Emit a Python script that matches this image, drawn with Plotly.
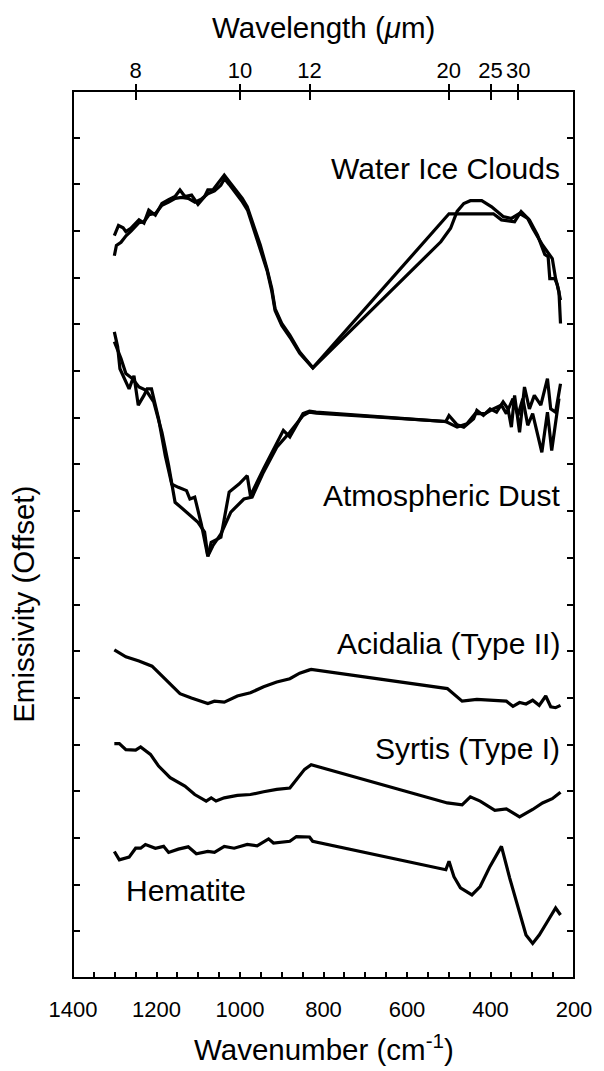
import plotly.graph_objects as go

# ---------------- data (wavenumber cm^-1, offset emissivity units) ----------------
ice1_wn = [1301, 1291, 1280, 1273.5, 1261.6, 1242, 1230, 1218.5, 1202.7, 1187, 1171, 1155.5,
           1143.8, 1132, 1116, 1100.6, 1084.8, 1077, 1065, 1053.4, 1037.7, 1026, 1010, 994.5,
           982.7, 967, 951.4, 935.6, 923.8, 916, 900, 880.6, 857, 825.5, 499.4, 393, 373.8,
           342.3, 326.6, 306.8, 287.3, 270, 262, 258, 246, 240, 232.3]
ice1_em = [15.90, 16.12, 16.07, 15.99, 16.06, 16.24, 16.17, 16.45, 16.34, 16.59, 16.67, 16.74,
           16.88, 16.74, 16.77, 16.57, 16.74, 16.88, 16.88, 17.02, 17.20, 17.06, 16.88, 16.70,
           16.52, 16.13, 15.70, 15.20, 14.77, 14.34, 14.02, 13.77, 13.41, 13.07, 16.37, 16.37, 16.24,
           16.20, 16.42, 16.24, 15.91, 15.50, 15.45, 14.98, 14.98, 14.85, 14.52]

ice2_wn = [1301, 1296, 1285, 1273, 1261, 1242, 1230, 1218, 1202, 1187, 1171, 1155, 1140, 1124,
           1108, 1093, 1077, 1061, 1046, 1037, 1026, 1010, 994, 982, 967, 951, 935, 924, 916, 900,
           880, 857, 825.5, 519, 495.6, 480, 464, 448.3, 421, 397.3, 369.8, 350, 330.4, 310.8,
           299, 275.4, 252, 244, 236, 232.3]
ice2_em = [15.47, 15.69, 15.76, 15.90, 16.00, 16.18, 16.20, 16.35, 16.38, 16.55, 16.62, 16.70,
           16.72, 16.70, 16.62, 16.68, 16.80, 16.86, 16.98, 17.12, 17.00, 16.82, 16.62, 16.45, 16.05,
           15.62, 15.15, 14.72, 14.30, 13.98, 13.72, 13.38, 13.07, 15.77, 16.06, 16.42, 16.59, 16.65,
           16.65, 16.52, 16.31, 16.27, 16.38, 16.27, 16.06, 15.70, 15.41, 14.98, 14.70, 14.02]

dust1_wn = [1301, 1293, 1287.6, 1265.6, 1254, 1243.7, 1230, 1222.4, 1212, 1195, 1179, 1163.5,
            1147.7, 1128, 1120, 1108.4, 1092.8, 1077, 1069, 1045.7, 1026, 1002.4, 982.7, 975,
            943.4, 912, 896.2, 880.6, 849, 833.5, 817.7, 507, 499.4, 480, 464, 440.5, 432.7, 417,
            401, 385.5, 369.8, 358, 350, 342.3, 330.4, 318.6, 306.8, 295, 279.5, 263.6, 255.8,
            244, 232.3]
dust1_em = [13.84, 13.52, 13.05, 12.62, 12.90, 12.27, 12.48, 12.62, 12.62, 11.98, 11.19, 10.58,
            10.51, 10.44, 10.26, 10.30, 9.73, 9.03, 9.33, 9.44, 10.41, 10.58, 10.76, 10.33,
            10.91, 11.48, 11.73, 11.59, 12.09, 12.14, 12.12, 11.92, 12.05, 11.85, 11.80, 11.98, 12.16,
            12.05, 12.19, 12.12, 12.34, 12.19, 11.80, 12.48, 11.69, 12.66, 12.19, 12.48, 12.27,
            12.84, 12.19, 12.12, 12.73]

dust2_wn = [1301, 1285, 1273.4, 1257.8, 1242, 1225, 1206.7, 1187, 1171, 1155.5, 1132, 1100.6,
            1084.8, 1077, 1065, 1045.7, 1022, 990.6, 971, 943.4, 912, 880.6, 849, 833.5, 817,
            507, 480, 456.4, 436.6, 413, 393.3, 373.8, 362, 346.2, 334.4, 322.6, 310.8, 299, 277,
            263.6, 253.4, 240, 236]
dust2_em = [13.63, 13.27, 12.95, 12.84, 12.66, 12.59, 12.34, 11.69, 10.98, 10.19, 10.01, 9.76,
            9.55, 9.04, 9.26, 9.51, 9.98, 10.26, 10.30, 10.84, 11.37, 11.69, 12.05, 12.12, 12.10,
            11.92, 11.80, 11.87, 12.09, 12.09, 12.19, 12.27, 12.09, 12.41, 12.05, 12.41, 11.84,
            12.09, 11.26, 12.12, 11.30, 12.12, 12.41]

acid_wn = [1301, 1273.4, 1242, 1210.7, 1179, 1143.8, 1116.4, 1077, 1061.2, 1037.7, 1006.3, 975,
           943.4, 912, 880.6, 857, 833.5, 829.5, 503.4, 468, 432.7, 393.3, 362, 346.2, 330.4, 315,
           299, 283.3, 267.7, 255.8, 244, 232.3]
acid_em = [7.03, 6.88, 6.79, 6.68, 6.40, 6.09, 6.00, 5.88, 5.93, 5.91, 6.04, 6.11,
           6.24, 6.34, 6.41, 6.53, 6.60, 6.61, 6.20, 5.93, 5.97, 5.95, 5.93, 5.82, 5.90, 5.87,
           5.95, 5.84, 6.04, 5.81, 5.79, 5.84]

syrt_wn = [1301, 1289, 1273.4, 1250, 1238, 1214.5, 1195, 1167.3, 1132, 1108.4, 1081, 1069,
           1057.5, 1037.7, 1006.3, 975, 943.4, 912, 880.6, 861, 845.3, 829.5, 503.4, 468, 448.3,
           424.8, 389.6, 362, 330.4, 299, 275.4, 252, 232.3]
syrt_em = [5.02, 5.02, 4.89, 4.88, 4.95, 4.79, 4.54, 4.29, 4.11, 3.93, 3.79, 3.86,
           3.79, 3.86, 3.91, 3.93, 3.99, 4.04, 4.07, 4.29, 4.47, 4.57, 3.75, 3.71, 3.88,
           3.79, 3.59, 3.62, 3.45, 3.61, 3.75, 3.84, 3.98]

hem_wn = [1301, 1289, 1265.6, 1250, 1238, 1226.5, 1202.7, 1183, 1171, 1147.7, 1124, 1104.6,
          1077, 1061.2, 1037.7, 1014, 982.7, 959, 931.6, 919.8, 880.6, 864.8, 833.5, 826, 507,
          499.4, 487.6, 472, 444.5, 424.8, 401.2, 373.8, 354, 334.4, 315, 299, 283.3, 263.6, 244,
          232.3]
hem_em = [2.71, 2.53, 2.59, 2.78, 2.78, 2.86, 2.78, 2.82, 2.69, 2.76, 2.81, 2.66,
          2.71, 2.69, 2.82, 2.78, 2.86, 2.83, 2.98, 2.89, 2.93, 3.03, 3.02, 2.93, 2.32,
          2.50, 2.17, 1.93, 1.78, 1.96, 2.39, 2.82, 2.14, 1.50, 0.92, 0.74, 0.92, 1.21, 1.50,
          1.35]

labels = ["Water Ice Clouds", "Atmospheric Dust", "Acidalia (Type II)", "Syrtis (Type I)"]
label_y = [17.35, 10.33, 7.17, 4.92]
label_right_wn = 228
hem_label = "Hematite"
hem_label_pos = (1277, 1.88)

x_tick_labels = [1400, 1200, 1000, 800, 600, 400, 200]
x_minor_ticks = list(range(250, 1400, 50))
wavelength_ticks = [8, 10, 12, 20, 25, 30]

FONT = "Liberation Sans, Arial, Helvetica, sans-serif"
fig = go.Figure()

series = [(ice1_wn, ice1_em), (ice2_wn, ice2_em), (dust1_wn, dust1_em), (dust2_wn, dust2_em),
          (acid_wn, acid_em), (syrt_wn, syrt_em), (hem_wn, hem_em)]
for wn, em in series:
    fig.add_trace(go.Scatter(x=wn, y=em, mode="lines",
                             line=dict(color="black", width=3.2),
                             showlegend=False, hoverinfo="skip"))

# empty traces so that the two top (wavelength) axes get drawn
for xa in ("x2", "x3"):
    fig.add_trace(go.Scatter(x=[], y=[], xaxis=xa, yaxis="y", mode="lines",
                             showlegend=False, hoverinfo="skip"))

top_vals = [10000.0 / w for w in wavelength_ticks]
tick_style = dict(tickcolor="black", showgrid=False, zeroline=False)
fig.update_layout(
    width=604, height=1071,
    margin=dict(l=73, r=22, t=91, b=93),
    paper_bgcolor="white", plot_bgcolor="white",
    font=dict(family=FONT, color="black"),
    xaxis=dict(range=[1400, 200], tickvals=x_tick_labels,
               ticktext=[str(v) for v in x_tick_labels],
               ticks="inside", ticklen=6, tickwidth=1.5, showline=False,
               minor=dict(tickvals=x_minor_ticks, ticks="inside", ticklen=6, tickwidth=1.5,
                          tickcolor="black", showgrid=False),
               tickfont=dict(size=22), ticklabelstandoff=16, **tick_style),
    xaxis2=dict(range=[1400, 200], overlaying="x", side="top", anchor="y",
                tickvals=top_vals, ticktext=[str(w) for w in wavelength_ticks],
                ticks="inside", ticklen=9, tickwidth=1.5, showline=False,
                ticklabelstandoff=8, tickfont=dict(size=22), **tick_style),
    xaxis3=dict(range=[1400, 200], overlaying="x", side="top", anchor="y",
                tickvals=top_vals, showticklabels=False,
                ticks="outside", ticklen=6, tickwidth=1.5, showline=False, **tick_style),
    yaxis=dict(range=[0, 19], dtick=1, tick0=0, showticklabels=False,
               ticks="inside", ticklen=7, tickwidth=1.5, showline=False,
               mirror="ticks", **tick_style),
    shapes=[dict(type="rect", xref="paper", yref="paper", x0=0, x1=1, y0=0, y1=1,
                 line=dict(color="black", width=2), fillcolor="rgba(0,0,0,0)", layer="above")],
)

for t, yv in zip(labels, label_y):
    fig.add_annotation(x=label_right_wn, xref="x", y=yv, yref="y", text=t, showarrow=False,
                       xanchor="right", yanchor="middle", font=dict(size=30))
fig.add_annotation(x=hem_label_pos[0], xref="x", y=hem_label_pos[1], yref="y", text=hem_label,
                   showarrow=False, xanchor="left", yanchor="middle", font=dict(size=30))
fig.add_annotation(x=0.5, xref="paper", y=1 + (91 - 27) / 887, yref="paper",
                   text="Wavelength (<i>μ</i>m)", showarrow=False,
                   xanchor="center", yanchor="middle", font=dict(size=29.5))
fig.add_annotation(x=0.5, xref="paper", y=-(1047 - 978) / 887, yref="paper",
                   text="Wavenumber (cm<sup>-1</sup>)", showarrow=False,
                   xanchor="center", yanchor="middle", font=dict(size=29.5))
fig.add_annotation(x=(22 - 73) / 509, xref="paper", y=(978 - 604) / 887, yref="paper",
                   text="Emissivity (Offset)", showarrow=False, textangle=-90,
                   xanchor="center", yanchor="middle", font=dict(size=29.5))

fig.write_html("out.html")
